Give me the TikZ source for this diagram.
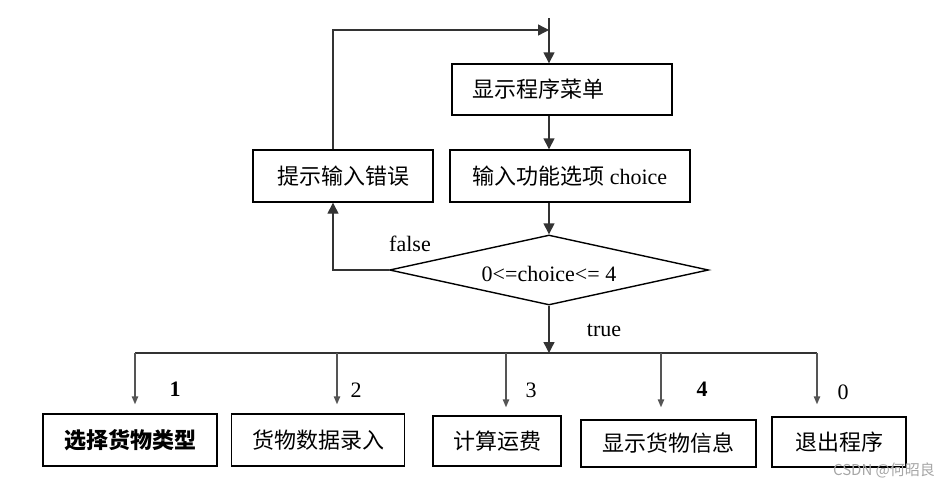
\documentclass[tikz,border=0pt]{standalone}
\usepackage{fontspec}
\setmainfont{Liberation Serif}
\newfontfamily\cjk{Noto Sans CJK SC}
\usetikzlibrary{arrows.meta,shapes.geometric}
\definecolor{linegray}{HTML}{333333}
\definecolor{branchgray}{HTML}{555555}
\tikzset{
    box/.style={
        rectangle,
        draw=black,
        line width=0.7pt,
        inner sep=0pt,
        font=\cjk\fontsize{11pt}{13pt}\selectfont,
        align=center
    },
    decbox/.style={
        diamond,
        draw=black,
        line width=0.7pt,
        inner sep=0pt,
        aspect=4.5,
        text height=8pt,
        text depth=2pt,
        font=\fontsize{11pt}{13pt}\selectfont
    },
    arrow/.style={
        draw=linegray,
        line width=0.7pt,
        -{Triangle[length=5.5pt,width=5.5pt]}
    },
    branch/.style={
        draw=branchgray,
        line width=0.7pt,
        -{Triangle[length=4pt,width=3.2pt]}
    },
    label/.style={
        font=\fontsize{11pt}{13pt}\selectfont
    }
}
\begin{document}
\begin{tikzpicture}[x=0.5pt,y=-0.5pt]
    \useasboundingbox (0,0) rectangle (949,488);

    \node[box, minimum height=25.5pt, text width=90pt, inner xsep=10pt, align=left] (menu) at (562,89.5) {显示程序菜单};
    \node[box, minimum width=120pt, minimum height=26pt] (input) at (570,176) {输入功能选项\ {\rmfamily choice}};
    \node[box, minimum width=90pt, minimum height=26pt] (err) at (343,176) {提示输入错误};
    \node[decbox, minimum width=159.5pt, minimum height=35pt] (dec) at (549,270) {\raisebox{-2.5pt}{0<=choice<= 4}};

    \coordinate (entry) at (549,18);
    \coordinate (join) at (549,30);
    \coordinate (bar) at (549,353);

    \draw[arrow] (entry) -- (menu.north -| entry);
    \draw[arrow] ([xshift=-5pt]err.north) |- (join);
    \draw[arrow] (menu.south -| entry) -- (input.north -| entry);
    \draw[arrow] (input.south -| entry) -- (dec.north);
    \draw[arrow] (dec.west) -| ([xshift=-5pt]err.south);
    \draw[arrow] (dec.south) -- (bar);

    \node[label] (falselab) at (410,244) {false};
    \node[label] (truelab) at (604,330) {true};

    % bottom row
    \node[box, minimum width=87pt, minimum height=26pt, font=\cjk\bfseries\fontsize{11pt}{13pt}\selectfont] (b1) at (130,440) {选择货物类型};
    \node[box, minimum width=86.5pt, minimum height=26pt] (b2) at (318,440) {货物数据录入};
    \node[box, minimum width=64pt, minimum height=25pt] (b3) at (497,441) {计算运费};
    \node[box, minimum width=87.5pt, minimum height=23.5pt] (b4) at (668.5,443.5) {显示货物信息};
    \node[box, minimum width=67pt, minimum height=25pt] (b5) at (839,442) {退出程序};

    \draw[draw=linegray, line width=0.7pt] (135,353) -- (817,353);
    \foreach \n/\x/\gap in {b1/135/9,b2/337/9,b3/506/8,b4/661/12,b5/817/12} {
        \draw[branch, shorten >=\gap*0.5pt] (\x,353) -- (\x,353 |- \n.north);
    }

    \node[label, font=\bfseries\fontsize{11pt}{13pt}\selectfont] (lab1) at (175,389) {1};
    \node[label] (lab2) at (356,390) {2};
    \node[label] (lab3) at (531,390) {3};
    \node[label, font=\bfseries\fontsize{11pt}{13pt}\selectfont] (lab4) at (702,389) {4};
    \node[label] (lab0) at (843,392) {0};

    \node[text=gray!70, font=\cjk\fontsize{7.5pt}{9pt}\selectfont] (mark) at (884,470) {CSDN @何昭良};
\end{tikzpicture}
\end{document}
